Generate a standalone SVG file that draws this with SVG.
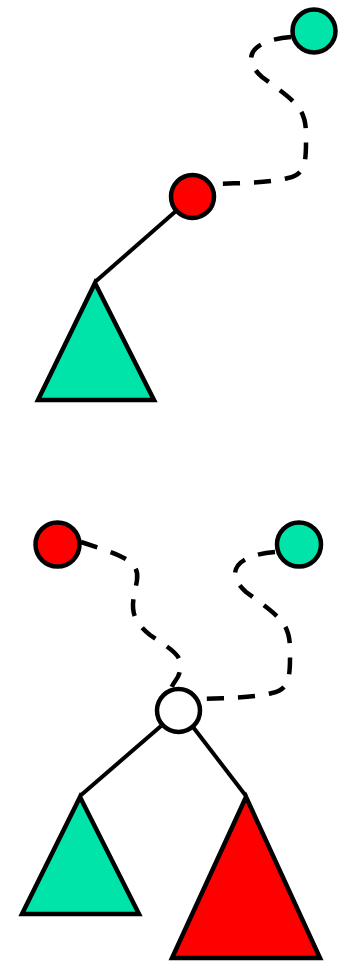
<svg xmlns="http://www.w3.org/2000/svg" width="338" height="962" viewBox="0 0 338 962">
<style>
.shape{stroke:#000;stroke-width:4.5;stroke-linejoin:miter}
.green{fill:#00e4aa}
.red{fill:#ff0000}
.white{fill:#fff}
.solid{fill:none;stroke:#000;stroke-width:4}
.dash{fill:none;stroke:#000;stroke-width:4.5;stroke-dasharray:17 14}
</style>
<rect width="338" height="962" fill="#fff"/>
<g id="connectors">
<line class="solid" x1="176" y1="211" x2="95" y2="282"/>
<path class="dash" d="M 291,37 C 252,40 240,58 262,77 C 296,102 306,108 306,135 C 306,158 307,175 288,178 C 270,183 240,183 214,184"/>
<path class="dash" d="M 81,542 C 120,555 140,560 137,580 C 134,600 125,615 150,635 C 175,652 182,655 180,670 C 179,680 172,682 171,690"/>
<path class="dash" d="M 275,552 C 236,555 224,573 246,592 C 280,617 290,623 290,650 C 290,673 291,690 272,693 C 254,698 224,698 199,699"/>
<line class="solid" x1="161" y1="726" x2="80" y2="796"/>
<line class="solid" x1="193" y1="727" x2="246" y2="796"/>
</g>
<g id="n1"><circle class="shape green" cx="314" cy="31" r="21.5"/></g>
<g id="n2"><circle class="shape red" cx="192.5" cy="196.5" r="21.5"/></g>
<g id="t1"><polygon class="shape green" points="95,283 38,400 154,400"/></g>
<g id="n3"><circle class="shape red" cx="57.5" cy="544.5" r="22"/></g>
<g id="n4"><circle class="shape green" cx="299" cy="544.5" r="22"/></g>
<g id="n5"><circle class="shape white" cx="178.5" cy="710.5" r="21.5"/></g>
<g id="t2"><polygon class="shape green" points="80,797 22,914 139,914"/></g>
<g id="t3"><polygon class="shape red" points="246,797 172,958 320,958"/></g>
</svg>
